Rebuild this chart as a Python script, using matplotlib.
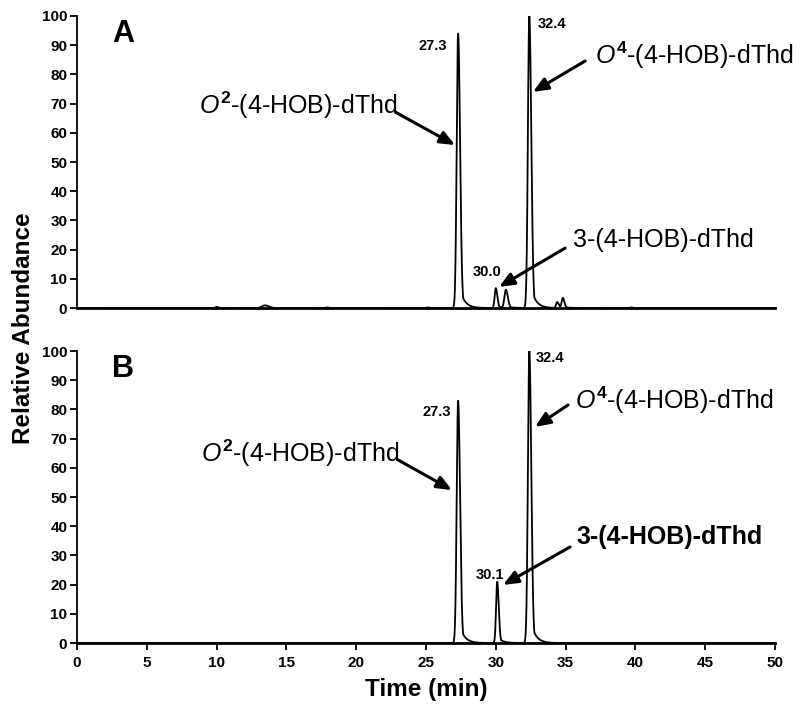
import numpy as np
import matplotlib
matplotlib.use("Agg")
import matplotlib.pyplot as plt

plt.rcParams['font.family'] = ['Liberation Sans', 'DejaVu Sans']
plt.rcParams['mathtext.fontset'] = 'custom'
plt.rcParams['mathtext.it'] = 'Liberation Sans:italic'
plt.rcParams['mathtext.rm'] = 'Liberation Sans'
plt.rcParams['mathtext.bf'] = 'Liberation Sans:bold'

# ---- data ----
# Panel A peaks: retention time (min), relative abundance (%), width (min)
a_times = [10.0, 13.45, 17.9, 25.1, 27.3, 30.0, 30.72, 32.4, 34.4, 34.8, 39.7]
a_heights = [0.4, 0.9, 0.2, 0.2, 94, 6.8, 6.2, 100, 2.0, 3.4, 0.2]
a_widths = [0.08, 0.2, 0.08, 0.08, 0.1, 0.08, 0.1, 0.1, 0.08, 0.08, 0.08]
# Panel B peaks
b_times = [27.3, 30.1, 32.4]
b_heights = [83, 21, 100]
b_widths = [0.1, 0.08, 0.1]

a_labels = ["27.3", "30.0", "32.4"]
b_labels = ["27.3", "30.1", "32.4"]

x_ticks = [0, 5, 10, 15, 20, 25, 30, 35, 40, 45, 50]
y_ticks = [0, 10, 20, 30, 40, 50, 60, 70, 80, 90, 100]


def trace(t, times, heights, widths):
    y = np.zeros_like(t)
    for c, h, s in zip(times, heights, widths):
        left = np.exp(-0.5 * ((t - c) / s) ** 2)
        right = np.maximum(np.exp(-0.5 * ((t - c) / (1.4 * s)) ** 2),
                           0.1 * np.exp(-(t - c) / 0.35))
        y += h * np.where(t < c, left, right)
    return y


t = np.linspace(0, 50, 20001)
ya = trace(t, a_times, a_heights, a_widths)
yb = trace(t, b_times, b_heights, b_widths)

fig = plt.figure(figsize=(8, 7.11), dpi=100)
axA = fig.add_axes([0.09625, 0.5668, 0.8725, 0.4107])
axB = fig.add_axes([0.09625, 0.0956, 0.8725, 0.4107])

for ax, y in ((axA, ya), (axB, yb)):
    ax.plot(t, y, color='black', lw=1.3)
    ax.set_xlim(0, 50)
    ax.set_ylim(0, 100)
    ax.spines['top'].set_visible(False)
    ax.spines['right'].set_visible(False)
    ax.spines['left'].set_linewidth(1.3)
    ax.spines['bottom'].set_linewidth(2.0)
    ax.set_yticks(y_ticks)
    ax.set_xticks(x_ticks)
    ax.tick_params(axis='y', direction='out', length=5, width=1.3, labelsize=11, pad=2)
    ax.tick_params(axis='x', direction='out', length=5, width=1.3, labelsize=11, pad=4)
    for lab in ax.get_yticklabels() + ax.get_xticklabels():
        lab.set_fontweight('bold')

axA.tick_params(axis='x', length=0, labelbottom=False)
axB.set_xlabel('Time (min)', fontsize=17.5, fontweight='bold', labelpad=6)
fig.text(0.03, 0.539, 'Relative Abundance', rotation=90, fontsize=17.5,
         fontweight='bold', ha='center', va='center')

axA.text(2.5, 94, 'A', fontsize=22, fontweight='bold', ha='left', va='center')
axB.text(2.5, 94, 'B', fontsize=22, fontweight='bold', ha='left', va='center')

pk = dict(fontsize=10.5, fontweight='bold', ha='center', va='center')
# Panel A peak labels
axA.text(25.5, 89.7, a_labels[0], **pk)
axA.text(29.4, 12.3, a_labels[1], **pk)
axA.text(34.0, 97.3, a_labels[2], **pk)
# Panel B peak labels
axB.text(25.8, 79.1, b_labels[0], **pk)
axB.text(29.6, 23.3, b_labels[1], **pk)
axB.text(33.9, 97.6, b_labels[2], **pk)

arrow = dict(arrowstyle='-|>,head_length=0.9,head_width=0.38', color='black', lw=2.2,
             shrinkA=0, shrinkB=0)

o2 = r'$\mathit{O}^{\mathbf{2}}$-(4-HOB)-dThd'
o4 = r'$\mathit{O}^{\mathbf{4}}$-(4-HOB)-dThd'
three = '3-(4-HOB)-dThd'
fs = 18

# Panel A annotations
axA.text(22.95, 69.3, o2, fontsize=fs, ha='right', va='center')
axA.annotate('', xy=(27.08, 55.8), xytext=(22.8, 67.1), arrowprops=arrow)
axA.text(37.1, 86.6, o4, fontsize=fs, ha='left', va='center')
axA.annotate('', xy=(32.66, 74.0), xytext=(36.4, 84.6), arrowprops=arrow)
axA.text(35.5, 23.3, three, fontsize=fs, ha='left', va='center')
axA.annotate('', xy=(30.23, 7.2), xytext=(34.96, 20.5), arrowprops=arrow)
# Panel B annotations
axB.text(23.1, 65.1, o2, fontsize=fs, ha='right', va='center')
axB.annotate('', xy=(26.86, 52.4), xytext=(23.0, 62.7), arrowprops=arrow)
axB.text(35.67, 83.2, o4, fontsize=fs, ha='left', va='center')
axB.annotate('', xy=(32.81, 74.0), xytext=(35.17, 81.5), arrowprops=arrow)
axB.text(35.8, 36.3, three, fontsize=fs, ha='left', va='center', fontweight='bold')
axB.annotate('', xy=(30.52, 19.9), xytext=(35.32, 32.9), arrowprops=arrow)

fig.savefig('out.png', dpi=100)
